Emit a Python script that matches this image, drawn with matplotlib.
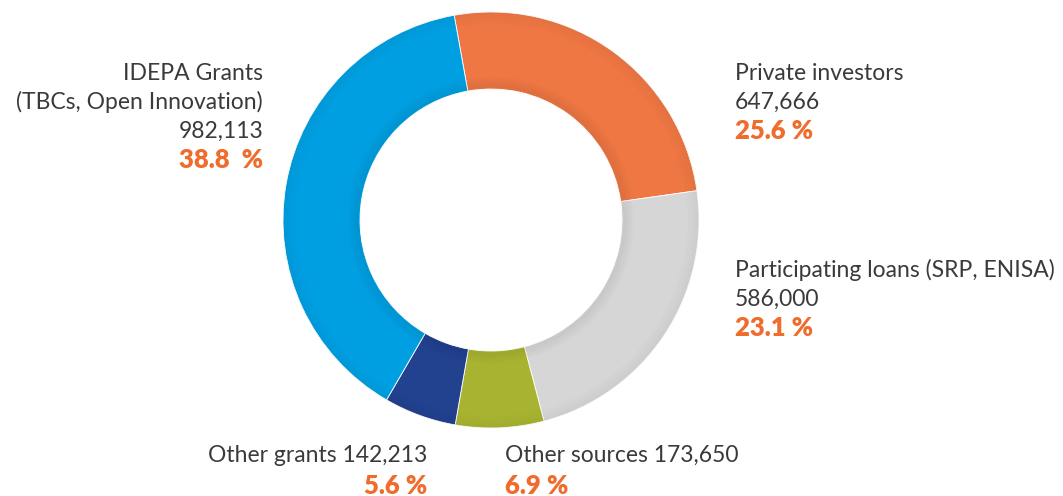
import matplotlib.pyplot as plt
import numpy as np

# funding sources, clockwise from the top
labels = ["Private investors", "Participating loans (SRP, ENISA)", "Other sources",
          "Other grants", "IDEPA Grants\n(TBCs, Open Innovation)"]
amounts = [647666, 586000, 173650, 142213, 982113]
pct_text = ["25.6 %", "23.1 %", "6.9 %", "5.6 %", "38.8  %"]
colors = ["#ee7744", "#d6d6d6", "#a8b431", "#22418f", "#009fe1"]

W, H = 1063, 496
cx, cy = 491, H - 220
R, ring = 208, 77
TEXT = "#3a3a3a"
ORANGE = "#ef6c2c"
FONT = "Lato"

fig = plt.figure(figsize=(W / 100, H / 100), dpi=100)
ax = fig.add_axes([0, 0, 1, 1])

ax.pie(amounts, colors=colors, center=(cx, cy), radius=R, startangle=100.2,
       counterclock=False, wedgeprops=dict(width=ring, linewidth=0.6, edgecolor="white"))

# soft bevel: darken near the inner and outer edges
for k in range(8):
    a = 0.045 * (1 - k / 8)
    inner = plt.Circle((cx, cy), R - ring + k * 1.5 + 1.5, fill=False,
                       lw=1.6, color="black", alpha=a)
    outer = plt.Circle((cx, cy), R - k * 1.5 - 0.8, fill=False,
                       lw=1.6, color="black", alpha=a * 0.6)
    ax.add_patch(inner)
    ax.add_patch(outer)

ax.set_xlim(0, W)
ax.set_ylim(0, H)
ax.set_aspect("equal")
ax.axis("off")

fs = 16.5
pfs = 18.5
lh = 29


def block(x, y, lines, pct, ha):
    for i, s in enumerate(lines):
        ax.text(x, H - (y + i * lh), s, ha=ha, va="center", fontsize=fs,
                color=TEXT, family=FONT)
    ax.text(x, H - (y + len(lines) * lh), pct, ha=ha, va="center", fontsize=pfs,
            color=ORANGE, family=FONT, fontweight="heavy")


block(263, 73, labels[4].split("\n") + [f"{amounts[4]:,}"], pct_text[4], "right")
block(735, 73, [labels[0], f"{amounts[0]:,}"], pct_text[0], "left")
block(735, 270, [labels[1], f"{amounts[1]:,}"], pct_text[1], "left")

ax.text(427, H - 455, f"{labels[3]} {amounts[3]:,}", ha="right", va="center",
        fontsize=fs, color=TEXT, family=FONT)
ax.text(427, H - 486, pct_text[3], ha="right", va="center", fontsize=pfs,
        color=ORANGE, family=FONT, fontweight="heavy")
ax.text(505, H - 455, f"{labels[2]} {amounts[2]:,}", ha="left", va="center",
        fontsize=fs, color=TEXT, family=FONT)
ax.text(505, H - 486, pct_text[2], ha="left", va="center", fontsize=pfs,
        color=ORANGE, family=FONT, fontweight="heavy")

fig.savefig("out.png", dpi=100)
